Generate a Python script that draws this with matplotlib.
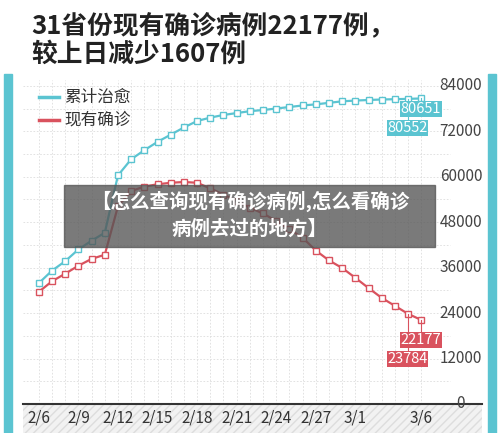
import numpy as np
import matplotlib.pyplot as plt
from matplotlib.patches import Rectangle

plt.rcParams['font.family'] = ['Noto Sans CJK SC', 'DejaVu Sans']

days = list(range(30))
tick_pos = [0, 3, 6, 9, 12, 15, 18, 21, 24, 29]
tick_labels = ['2/6', '2/9', '2/12', '2/15', '2/18', '2/21', '2/24', '2/27', '3/1', '3/6']

cured = [31900, 35200, 37700, 40800, 43100, 45200, 60350, 64600, 67000, 69200,
         71100, 73000, 74700, 75600, 76300, 76800, 77300, 77600, 78000, 78400,
         78800, 79100, 79500, 79900, 80100, 80250, 80380, 80460, 80552, 80651]
current = [29600, 32400, 34400, 36500, 38300, 39400, 52200, 56200, 57400, 58000,
           58400, 58600, 58400, 56900, 55300, 53600, 51800, 50300, 48300, 46100,
           43900, 40500, 37900, 35900, 33300, 30600, 28000, 25900, 23784, 22177]

teal = '#5bc4d1'
red = '#d9525e'

fig = plt.figure(figsize=(5, 4.33), dpi=100)
fig.patches.append(Rectangle((0, 0), 1, 1, transform=fig.transFigure, color='white', zorder=-5))
# teal side frames
fig.patches.append(Rectangle((0.008, 0), 0.016, 0.83, transform=fig.transFigure, color=teal))
fig.patches.append(Rectangle((0.976, 0), 0.016, 0.83, transform=fig.transFigure, color=teal))

fig.text(0.062, 0.972, '31省份现有确诊病例22177例，', fontsize=18.5, fontweight='bold',
         color='#222222', va='top')
fig.text(0.062, 0.905, '较上日减少1607例', fontsize=18.5, fontweight='bold',
         color='#222222', va='top')

ax = fig.add_axes([0.046, 0.067, 0.918, 0.748])
ax.set_xlim(-1.2, 33.6)
ax.set_ylim(0, 85500)
for s in ['top', 'right', 'left']:
    ax.spines[s].set_visible(False)
ax.spines['bottom'].set_color('#333333')
ax.spines['bottom'].set_linewidth(1.5)
for d in days:
    ax.axvline(d, color='#dddddd', lw=0.6, ls=(0, (2, 2)), zorder=0)
for v in range(6000, 84001, 6000):
    ax.axhline(v, xmax=0.93, color='#dddddd', lw=0.6, ls=(0, (2, 2)), zorder=0)
ax.set_yticks([])
ax.set_xticks(tick_pos)
ax.set_xticklabels(tick_labels, fontsize=11, color='#333333')
ax.tick_params(axis='x', length=0, pad=4)

for v in range(0, 84001, 12000):
    ax.text(32.0, v, str(v), fontsize=11, color='#444444', ha='center', va='center')

ax.plot(days, cured, color=teal, lw=1.6, marker='s', ms=4, mfc='white', mec=teal, mew=1)
ax.plot(days, current, color=red, lw=1.6, marker='s', ms=4, mfc='white', mec=red, mew=1)

# end labels
for x, ytop, ylab, val, col in [(29, cured[29], 77900, '80651', teal),
                                 (28, cured[28], 72900, '80552', teal),
                                 (29, current[29], 16900, '22177', red),
                                 (28, current[28], 11900, '23784', red)]:
    ax.plot([x, x], [ytop, ylab], color=col, lw=0.8)
    ax.text(x - 0.05, ylab, val, fontsize=10.5, color='white', ha='center', va='center',
            bbox=dict(boxstyle='square,pad=0.05', fc=col, ec='none'))

# legend
ax.plot([0, 1.5], [81000, 81000], color=teal, lw=2.5)
ax.text(1.9, 81000, '累计治愈', fontsize=12, va='center', color='#333333')
ax.plot([0, 1.5], [75000, 75000], color=red, lw=2.5)
ax.text(1.9, 75000, '现有确诊', fontsize=12, va='center', color='#333333')

# hatched bottom band
fig.patches.append(Rectangle((0.046, 0.0), 0.918, 0.067, transform=fig.transFigure,
                             fc='#f2f2f2', ec='#dddddd', hatch='////', lw=0, zorder=-1))

# overlay banner
fig.patches.append(Rectangle((0.128, 0.43), 0.742, 0.143, transform=fig.transFigure,
                             color='#555555', alpha=0.78, zorder=10))
fig.text(0.5, 0.535, '【怎么查询现有确诊病例,怎么看确诊', fontsize=14, fontweight='bold',
         color='white', ha='center', va='center', zorder=11)
fig.text(0.5, 0.472, '病例去过的地方】', fontsize=14, fontweight='bold',
         color='white', ha='center', va='center', zorder=11)

fig.savefig('out.png', dpi=100)
